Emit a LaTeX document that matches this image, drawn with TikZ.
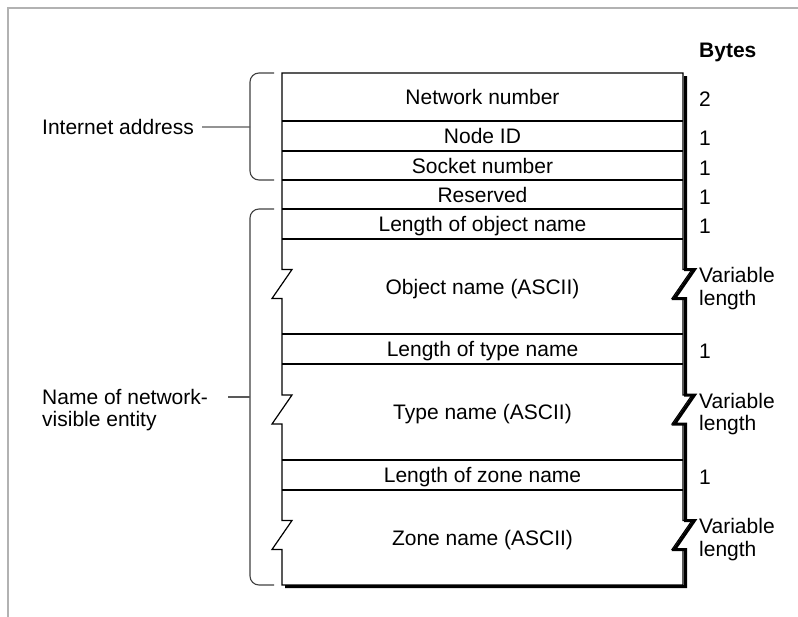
\documentclass[tikz,border=0pt]{standalone}
\usepackage{fontspec}
\setmainfont{Liberation Sans}
\begin{document}
\begin{tikzpicture}[x=1pt,y=-1pt,
  lbl/.style={font=\fontsize{21}{22.5}\selectfont, inner sep=0pt},
  field/.style={lbl, anchor=base},
  bytecount/.style={lbl, anchor=base west},
  varlen/.style={lbl, anchor=west, align=left},
  thinrule/.style={line width=1.2pt, black},
  shadowrule/.style={line width=3pt, black, miter limit=4},
  bracket/.style={line width=1.1pt, black!75, rounded corners=9pt},
  lead/.style={line width=1.1pt, black!65},
  framerule/.style={line width=1.5pt, black!30}]

\useasboundingbox (0,0) rectangle (798,616);

% outer frame (top and left edges)
\draw[framerule] (8,620) -- (8,8) -- (802,8);

% drop shadow on the right and bottom, following the break marks
\draw[shadowrule] (685.5,76)
   -- (685.5,269.5) -- (694.5,269.5) -- (674.5,298.5) -- (685.5,298.5)
   -- (685.5,395)   -- (694.5,395)   -- (674.5,424)   -- (685.5,424)
   -- (685.5,520.5) -- (694.5,520.5) -- (674.5,549.5) -- (685.5,549.5)
   -- (685.5,586.5) -- (285,586.5);

% record outline with break marks on both sides
\draw[thinrule] (282,73) -- (683,73)
   -- (683,269.5) -- (692,269.5) -- (672,298.5) -- (683,298.5)
   -- (683,395)   -- (692,395)   -- (672,424)   -- (683,424)
   -- (683,520.5) -- (692,520.5) -- (672,549.5) -- (683,549.5)
   -- (683,585) -- (282,585)
   -- (282,549.5) -- (272,549.5) -- (292,520.5) -- (282,520.5)
   -- (282,424)   -- (272,424)   -- (292,395)   -- (282,395)
   -- (282,298.5) -- (272,298.5) -- (292,269.5) -- (282,269.5)
   -- cycle;

% field separators
\foreach \y in {121,151,180,209,239,334,364,460,490}
  \draw[thinrule] (282,\y) -- (683,\y);

% field names
\node[field] (netnum)  at (482.5,104.5) {Network number};
\node[field] (nodeid)  at (482.5,143.5) {Node ID};
\node[field] (socket)  at (482.5,173) {Socket number};
\node[field] (resv)    at (482.5,202) {Reserved};
\node[field] (objlen)  at (482.5,231.5) {Length of object name};
\node[field] (objname) at (482.5,294) {Object name (ASCII)};
\node[field] (typelen) at (482.5,356.5) {Length of type name};
\node[field] (typename) at (482.5,419.5) {Type name (ASCII)};
\node[field] (zonelen) at (482.5,482.5) {Length of zone name};
\node[field] (zonename) at (482.5,545) {Zone name (ASCII)};

% byte counts
\node[lbl, anchor=base west, font=\fontsize{21}{22.5}\selectfont\bfseries] (bytes) at (699,57) {Bytes};
\node[bytecount] (b1) at (699,106.5) {2};
\node[bytecount] (b2) at (699,145.5) {1};
\node[bytecount] (b3) at (699,175) {1};
\node[bytecount] (b4) at (699,204) {1};
\node[bytecount] (b5) at (699,233.5) {1};
\node[varlen]    (b6) at (699,288.5) {Variable\\length};
\node[bytecount] (b7) at (699,358.5) {1};
\node[varlen]    (b8) at (699,414) {Variable\\length};
\node[bytecount] (b9) at (699,484.5) {1};
\node[varlen]    (b10) at (699,539.5) {Variable\\length};

% group brackets
\draw[bracket] (274,73) -- (250,73) -- (250,180) -- (274,180);
\draw[bracket] (274,209) -- (250,209) -- (250,585) -- (274,585);
\coordinate (inetmid) at (250,127);
\coordinate (namemid) at (250,397);
\coordinate (namelead) at (228,397);

% group labels
\node[lbl, anchor=base west] (inet) at (42,134.5) {Internet address};
\node[lbl, anchor=west, align=left] (entity) at (42,410) {Name of network-\\visible entity};

\draw[lead] ([xshift=8pt]inet.east) -- (inetmid);
\draw[lead] (namelead) -- (namemid);
\end{tikzpicture}
\end{document}
